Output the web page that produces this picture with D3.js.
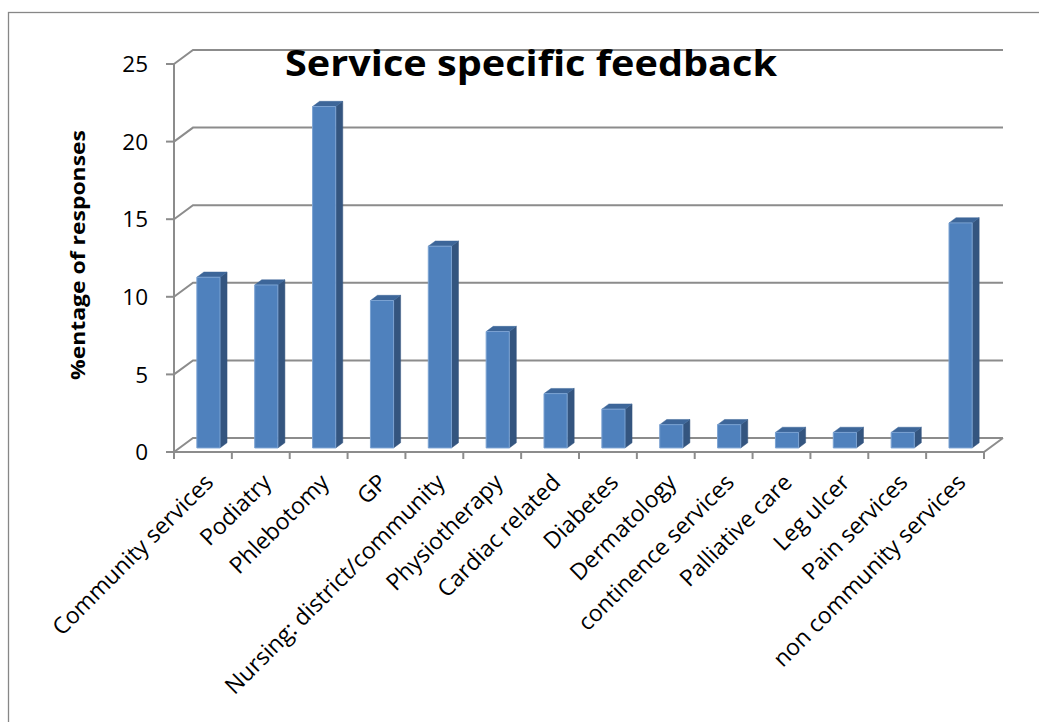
<!DOCTYPE html>
<html><head><meta charset="utf-8">
<script src="https://cdn.jsdelivr.net/npm/d3@7"></script>
<style>body{margin:0;background:#fff}svg{display:block}</style>
</head><body>
<svg id="chart" width="1039" height="722"></svg>
<script>
const categories = ["Community services","Podiatry","Phlebotomy","GP","Nursing: district/community","Physiotherapy","Cardiac related","Diabetes","Dermatology","continence services","Palliative care","Leg ulcer","Pain services","non community services"];
const values = [11, 10.5, 22, 9.5, 13, 7.5, 3.5, 2.5, 1.5, 1.5, 1, 1, 1, 14.5];
const yTicks = [0, 5, 10, 15, 20, 25];
const titleText = "Service specific feedback";
const yTitle = "%entage of responses";

const svg = d3.select("#chart");
const FONT = "'Open Sans', 'Noto Sans', sans-serif";
const gridColor = "#8c8c8c";

// plot geometry (front plane) and depth offset
const x0 = 174, x1 = 984, yBase = 452, yTop = 64;
const DX = 19, DY = -14;
const P = (x, y, d) => [x + DX * d, y + DY * d];

const x = d3.scaleBand().domain(categories).range([x0, x1]).paddingInner(0.6).paddingOuter(0.3);
const xStep = d3.scaleBand().domain(categories).range([x0, x1]).padding(0);
const y = d3.scaleLinear().domain([0, 25]).range([yBase, yTop]);

// outer border
svg.append("rect").attr("x", 8.5).attr("y", 12.5).attr("width", 1060).attr("height", 740)
  .attr("fill", "none").attr("stroke", "#878787").attr("stroke-width", 1.3);

const line = d3.line();
const g = svg.append("g");

// back wall gridlines + left side diagonals
yTicks.forEach(t => {
  const yy = y(t);
  g.append("path").attr("d", line([[x0, yy], P(x0, yy, 1), P(x1, yy, 1)]))
    .attr("fill", "none").attr("stroke", gridColor).attr("stroke-width", 2);
});
// floor front edge and right diagonal
g.append("path").attr("d", line([[x0, yBase], [x1, yBase], P(x1, yBase, 1)]))
  .attr("fill", "none").attr("stroke", gridColor).attr("stroke-width", 2);
// vertical axis
g.append("path").attr("d", line([[x0, yTop], [x0, yBase]]))
  .attr("fill", "none").attr("stroke", gridColor).attr("stroke-width", 2);
// y ticks
yTicks.forEach(t => {
  g.append("line").attr("x1", x0 - 8).attr("x2", x0).attr("y1", y(t)).attr("y2", y(t))
    .attr("stroke", gridColor).attr("stroke-width", 2);
  svg.append("text").attr("x", 148).attr("y", y(t)).attr("dy", "0.36em")
    .attr("text-anchor", "end").attr("font-family", FONT).attr("font-size", 22.5)
    .attr("fill", "#000").text(t);
});
// x ticks
d3.range(categories.length + 1).forEach(i => {
  const xx = x0 + i * xStep.step();
  g.append("line").attr("x1", xx).attr("x2", xx).attr("y1", yBase).attr("y2", yBase + 7)
    .attr("stroke", gridColor).attr("stroke-width", 2);
});

// bars
const d0 = 0.29, d1 = 0.66;
const bars = svg.append("g");
categories.forEach((c, i) => {
  const bx = x(c), bw = x.bandwidth(), v = values[i];
  const yt = y(v), yb = yBase;
  const fl = P(bx, yt, d0), fr = P(bx + bw, yt, d0), flb = P(bx, yb, d0), frb = P(bx + bw, yb, d0);
  const br = P(bx + bw, yt, d1), bl = P(bx, yt, d1), brb = P(bx + bw, yb, d1);
  bars.append("path").attr("d", line([fr, br, brb, frb]) + "Z").attr("fill", "#34557f").attr("stroke", "#34557f").attr("stroke-width", 0.5);
  bars.append("path").attr("d", line([fl, bl, br, fr]) + "Z").attr("fill", "#3d6699").attr("stroke", "#3d6699").attr("stroke-width", 0.5);
  bars.append("path").attr("d", line([fl, fr, frb, flb]) + "Z").attr("fill", "#4f81bd").attr("stroke", "#7ba2d2").attr("stroke-width", 1);
});

// x labels
categories.forEach((c, i) => {
  const cx = xStep(c) + xStep.step() / 2;
  svg.append("text").attr("transform", `translate(${cx + 6},${478}) rotate(-45)`)
    .attr("text-anchor", "end").attr("dy", "0.36em")
    .attr("font-family", FONT).attr("font-size", 23).attr("fill", "#000").text(c);
});

// title
svg.append("text").attr("x", 531).attr("y", 76).attr("text-anchor", "middle")
  .attr("font-family", FONT).attr("font-weight", "bold").attr("font-size", 36)
  .attr("textLength", 492).attr("lengthAdjust", "spacingAndGlyphs")
  .attr("fill", "#000").text(titleText);

// y title
svg.append("text").attr("transform", "translate(85,255) rotate(-90)")
  .attr("text-anchor", "middle").attr("font-family", FONT).attr("font-weight", "bold")
  .attr("font-size", 20).attr("textLength", 250).attr("lengthAdjust", "spacingAndGlyphs")
  .attr("fill", "#000").text(yTitle);
</script>
</body></html>
